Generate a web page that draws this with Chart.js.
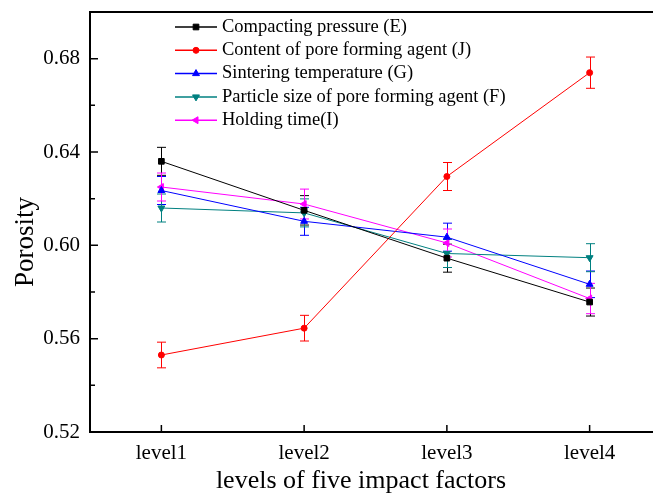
<!DOCTYPE html>
<html>
<head>
<meta charset="utf-8">
<script src="https://cdn.jsdelivr.net/npm/chart.js@4.4.1/dist/chart.umd.min.js"></script>
<style>
  html, body { margin: 0; padding: 0; overflow: hidden; background: #ffffff; }
  canvas { display: block; }
</style>
</head>
<body>
<canvas id="porosityChart" width="668" height="497"></canvas>
<script>
// Factor levels along the x axis
const levels = ['level1', 'level2', 'level3', 'level4'];

// Mean porosity at each level, one array per factor
const compactingPressureE = [0.636, 0.615, 0.5945, 0.5757];
const poreAgentContentJ   = [0.553, 0.5645, 0.6295, 0.674];
const sinteringTempG      = [0.6235, 0.6103, 0.6035, 0.5833];
const poreAgentSizeF      = [0.616, 0.6139, 0.5965, 0.5947];
const holdingTimeI        = [0.625, 0.6177, 0.601, 0.5772];

// Standard deviations (error bar half-lengths)
const compactingPressureErrE = [0.006, 0.0063, 0.006, 0.006];
const poreAgentContentErrJ   = [0.0055, 0.0055, 0.006, 0.0067];
const sinteringTempErrG      = [0.006, 0.006, 0.006, 0.0057];
const poreAgentSizeErrF      = [0.006, 0.006, 0.006, 0.006];
const holdingTimeErrI        = [0.006, 0.0064, 0.006, 0.0065];

// Series names
const seriesNames = [
  'Compacting pressure (E)',
  'Content of pore forming agent (J)',
  'Sintering temperature (G)',
  'Particle size of pore forming agent (F)',
  'Holding time(I)'
];

// Axis titles
const xTitle = 'levels of five impact factors';
const yTitle = 'Porosity';

// Porosity axis
const yMin = 0.52;
const yMax = 0.70;
const yTicks = [0.52, 0.56, 0.60, 0.64, 0.68];
const yMinorTicks = [0.54, 0.58, 0.62, 0.66];

const serifFont = "'Liberation Serif', 'Times New Roman', serif";

function makeSeries(label, data, errors, color, pointStyle, rotation, radius) {
  return {
    label: label,
    data: data,
    errors: errors,
    borderColor: color,
    backgroundColor: color,
    pointBackgroundColor: color,
    pointBorderColor: color,
    pointStyle: pointStyle,
    rotation: rotation,
    pointRotation: rotation,
    pointRadius: radius,
    pointHoverRadius: radius,
    pointBorderWidth: 1,
    borderWidth: 1,
    tension: 0,
    fill: false
  };
}

// Error bars with short caps, drawn beneath the markers
const errorBars = {
  id: 'errorBars',
  beforeDatasetsDraw(chart) {
    const ctx = chart.ctx;
    const xs = chart.scales.x, ys = chart.scales.y;
    const cap = 4.5;
    chart.data.datasets.forEach((ds) => {
      ctx.save();
      ctx.strokeStyle = ds.borderColor;
      ctx.lineWidth = 1;
      ds.data.forEach((v, j) => {
        const e = ds.errors[j];
        const x = Math.round(xs.getPixelForValue(j)) + 0.5;
        const yTop = ys.getPixelForValue(v + e);
        const yBot = ys.getPixelForValue(v - e);
        ctx.beginPath();
        ctx.moveTo(x, yTop); ctx.lineTo(x, yBot);
        ctx.moveTo(x - cap, yTop); ctx.lineTo(x + cap, yTop);
        ctx.moveTo(x - cap, yBot); ctx.lineTo(x + cap, yBot);
        ctx.stroke();
      });
      ctx.restore();
    });
  }
};

// Frame top edge, inward tick marks and axis titles
const frameAndTicks = {
  id: 'frameAndTicks',
  afterDraw(chart) {
    const ctx = chart.ctx;
    const area = chart.chartArea;
    const xs = chart.scales.x, ys = chart.scales.y;
    ctx.save();
    ctx.strokeStyle = '#000000';
    ctx.lineWidth = 2;
    ctx.beginPath();
    ctx.moveTo(area.left - 1, area.top);
    ctx.lineTo(area.right + 1, area.top);
    ctx.stroke();

    ctx.lineWidth = 1.5;
    ctx.beginPath();
    yTicks.forEach(v => {
      const y = ys.getPixelForValue(v);
      ctx.moveTo(area.left, y); ctx.lineTo(area.left + 8, y);
    });
    yMinorTicks.forEach(v => {
      const y = ys.getPixelForValue(v);
      ctx.moveTo(area.left, y); ctx.lineTo(area.left + 5, y);
    });
    levels.forEach((_, j) => {
      const x = xs.getPixelForValue(j);
      ctx.moveTo(x, area.bottom); ctx.lineTo(x, area.bottom - 7);
    });
    ctx.stroke();

    ctx.fillStyle = '#000000';
    ctx.font = '26px ' + serifFont;
    ctx.textAlign = 'center';
    ctx.textBaseline = 'alphabetic';
    ctx.fillText(xTitle, 361, 488);

    ctx.font = '27px ' + serifFont;
    ctx.translate(33, 242);
    ctx.rotate(-Math.PI / 2);
    ctx.fillText(yTitle, 0, 0);
    ctx.restore();
  }
};

// Legend inside the plot, upper middle
const innerLegend = {
  id: 'innerLegend',
  afterDraw(chart) {
    const ctx = chart.ctx;
    const area = chart.chartArea;
    const x0 = area.left + 85;
    const lineLen = 42;
    const rowY0 = area.top + 15;
    const rowGap = 23.3;
    ctx.save();
    ctx.font = '18.5px ' + serifFont;
    ctx.textBaseline = 'middle';
    ctx.textAlign = 'left';
    chart.data.datasets.forEach((ds, i) => {
      const y = rowY0 + i * rowGap;
      ctx.strokeStyle = ds.borderColor;
      ctx.lineWidth = 1.5;
      ctx.beginPath();
      ctx.moveTo(x0, y); ctx.lineTo(x0 + lineLen, y);
      ctx.stroke();
      ctx.fillStyle = ds.borderColor;
      ctx.lineWidth = 1;
      Chart.helpers.drawPoint(ctx, {
        pointStyle: ds.pointStyle,
        rotation: ds.pointRotation,
        radius: ds.pointRadius,
        borderWidth: 1
      }, x0 + lineLen / 2, y);
      ctx.fillStyle = '#000000';
      ctx.fillText(ds.label, x0 + lineLen + 5, y);
    });
    ctx.restore();
  }
};

new Chart(document.getElementById('porosityChart'), {
  type: 'line',
  data: {
    labels: levels,
    datasets: [
      makeSeries(seriesNames[0], compactingPressureE, compactingPressureErrE, '#000000', 'rect', 0, 4),
      makeSeries(seriesNames[1], poreAgentContentJ, poreAgentContentErrJ, '#ff0000', 'circle', 0, 3),
      makeSeries(seriesNames[2], sinteringTempG, sinteringTempErrG, '#0000ff', 'triangle', 0, 4),
      makeSeries(seriesNames[3], poreAgentSizeF, poreAgentSizeErrF, '#008080', 'triangle', 180, 4),
      makeSeries(seriesNames[4], holdingTimeI, holdingTimeErrI, '#ff00ff', 'triangle', 270, 4)
    ]
  },
  options: {
    responsive: false,
    animation: false,
    events: [],
    layout: { padding: { left: 0, top: 12, right: 7, bottom: 0 } },
    plugins: {
      legend: { display: false },
      tooltip: { enabled: false },
      title: { display: false }
    },
    scales: {
      x: {
        type: 'category',
        offset: true,
        grid: { display: false, drawTicks: false },
        border: { display: true, color: '#000000', width: 2 },
        ticks: {
          color: '#000000',
          padding: 9,
          font: { family: serifFont, size: 21 },
          maxRotation: 0
        },
        afterFit(scale) {
          scale.height = 65;
          scale.paddingLeft = 0;
          scale.paddingRight = 0;
        }
      },
      y: {
        type: 'linear',
        min: yMin,
        max: yMax,
        grid: { display: false, drawTicks: false },
        border: { display: true, color: '#000000', width: 2 },
        afterBuildTicks(scale) { scale.ticks = yTicks.map(v => ({ value: v })); },
        ticks: {
          color: '#000000',
          padding: 10,
          font: { family: serifFont, size: 21 },
          callback: (v) => Number(v).toFixed(2)
        },
        afterFit(scale) {
          scale.width = 90;
          scale.paddingTop = 0;
          scale.paddingBottom = 0;
        }
      }
    }
  },
  plugins: [errorBars, frameAndTicks, innerLegend]
});
</script>
</body>
</html>
